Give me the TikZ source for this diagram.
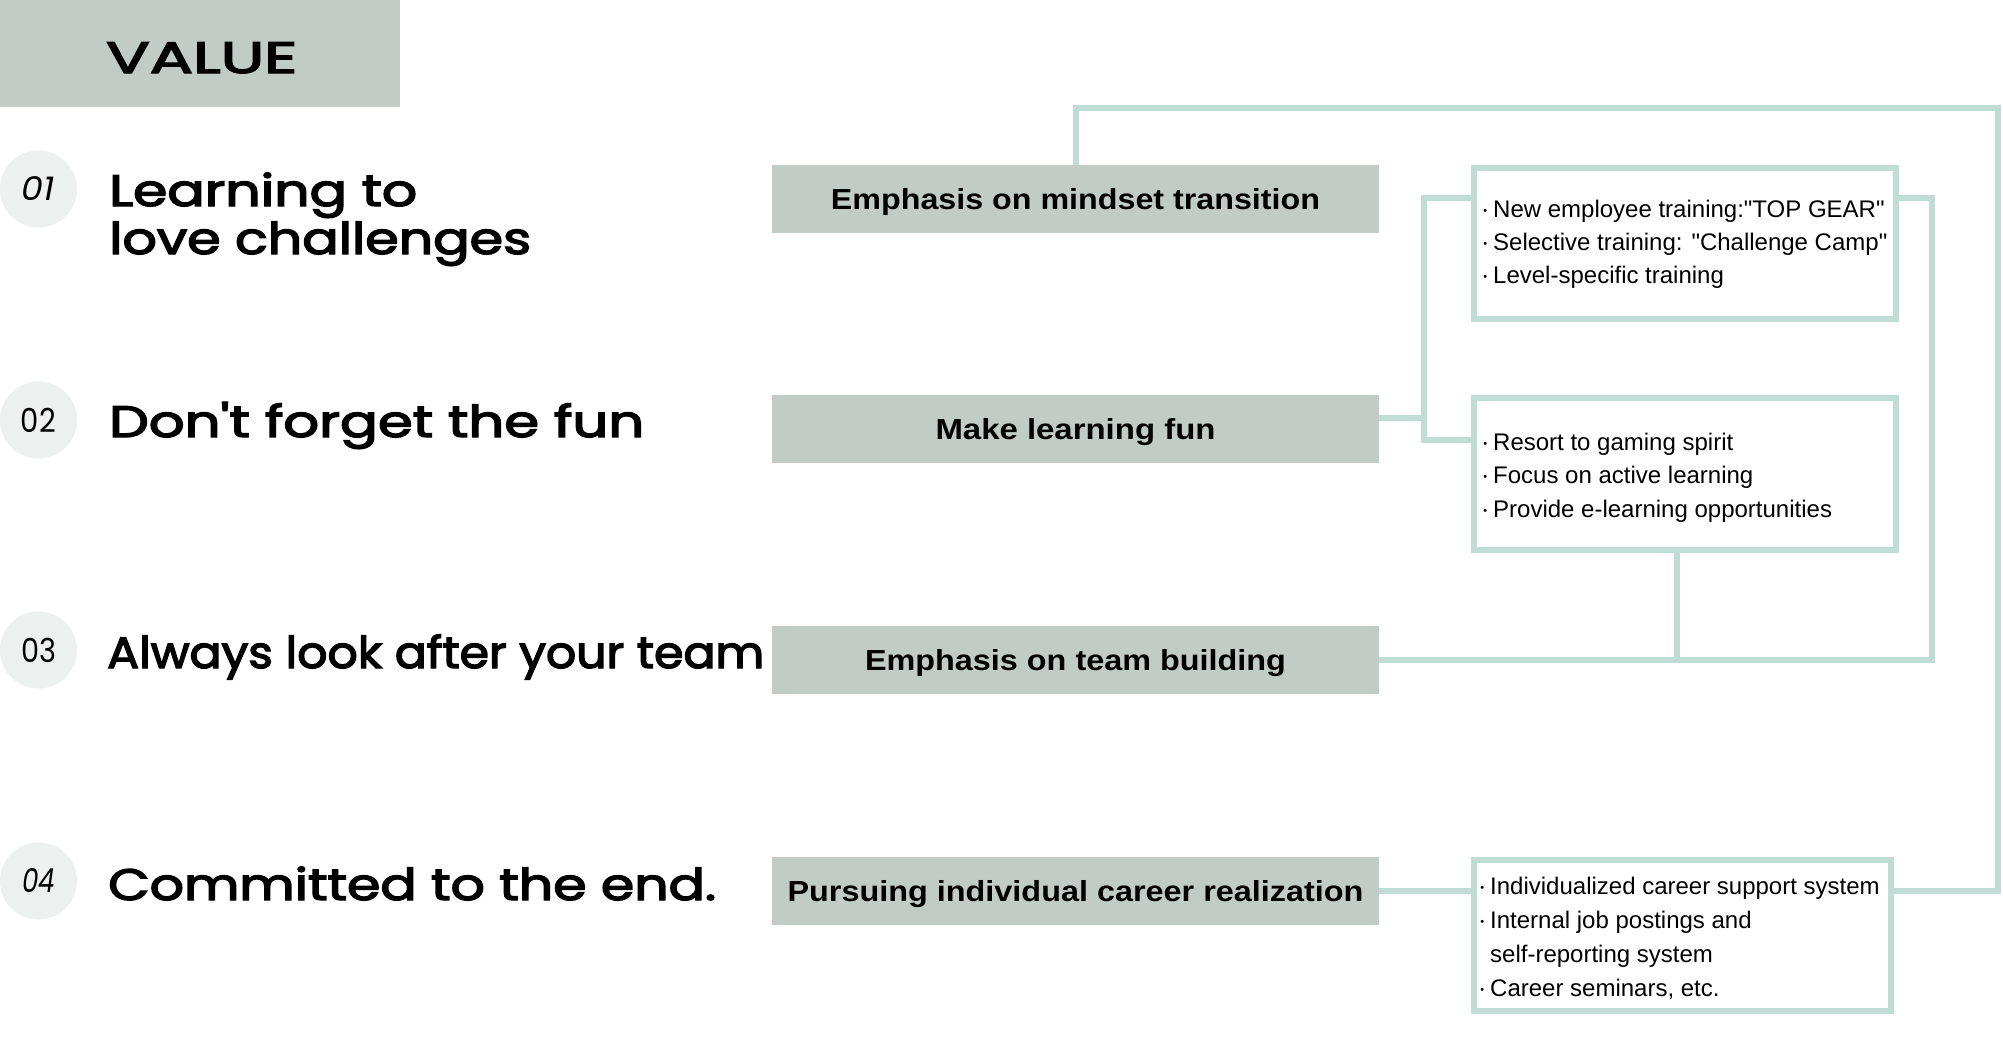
\documentclass[tikz,border=0pt]{standalone}
\usepackage{fontspec}
\usepackage{graphicx}
\setmainfont{Liberation Sans}[Ligatures=TeXOff]
\newfontfamily\headf{Poppins}[FakeBold=3, Ligatures=TeXOff]
\newfontfamily\numf{Poppins}
\definecolor{boxgray}{HTML}{C1CCC7}
\definecolor{lineteal}{HTML}{BFDDD5}
\definecolor{circgray}{HTML}{ECF0EF}
\newcommand\fitw[2]{\resizebox{#1}{\height}{#2}}
\newcommand\bul{\llap{\raisebox{3pt}{\fontsize{11}{11}\selectfont\textbullet}\kern6pt}}
\begin{document}
\begin{tikzpicture}[x=1pt,y=-1pt,
  gbox/.style={fill=boxgray, draw=none, minimum width=607pt, minimum height=68pt, inner sep=0pt,
    text height=21pt, text depth=0pt, font=\bfseries\fontsize{29}{29}\selectfont},
  ibox/.style={draw=lineteal, line width=6pt, fill=white, inner sep=0pt},
  link/.style={draw=lineteal, line width=6pt},
  itm/.style={anchor=base west, inner sep=0pt, font=\fontsize{24}{24}\selectfont},
  head/.style={anchor=base west, inner sep=0pt, font=\headf\fontsize{44}{44}\selectfont},
  numc/.style={circle, fill=circgray, minimum size=77pt, inner sep=0pt, font=\numf\fontsize{33}{33}\selectfont}]
\useasboundingbox (0,0) rectangle (2003,1042);
\fill[white] (0,0) rectangle (2003,1042);

% title
\node[fill=boxgray, minimum width=400pt, minimum height=107pt, inner sep=0pt] (vbox) at (200,53.5) {};
\node[head] (vt) at (106,73) {\fitw{191pt}{VALUE}};

% number circles
\node[numc] (c1) at (38.5,189) {\fitw{33pt}{\itshape 01}};
\node[numc] (c2) at (38.5,420) {\fitw{35pt}{02}};
\node[numc] (c3) at (38.5,650) {\fitw{35pt}{03}};
\node[numc] (c4) at (38.5,881) {\fitw{33pt}{\itshape 04}};

% headings
\node[head] (h1a) at (109,206) {\fitw{308pt}{Learning to}};
\node[head] (h1b) at (109,254) {\fitw{422pt}{love challenges}};
\node[head] (h2) at (109,437) {\fitw{535pt}{Don't forget the fun}};
\node[head] (h3) at (107,668) {\fitw{657pt}{Always look after your team}};
\node[head] (h4) at (108,900) {\fitw{608pt}{Committed to the end.}};

% gray boxes
\node[gbox] (b1) at (1075.5,199) {\fitw{489pt}{Emphasis on mindset transition}};
\node[gbox] (b2) at (1075.5,429) {\fitw{280pt}{Make learning fun}};
\node[gbox] (b3) at (1075.5,660) {\fitw{421pt}{Emphasis on team building}};
\node[gbox] (b4) at (1075.5,891) {\fitw{576pt}{Pursuing individual career realization}};

% item boxes
\node[ibox, minimum width=422pt, minimum height=151pt] (ia) at (1685,243.5) {};
\node[ibox, minimum width=422pt, minimum height=152pt] (ib) at (1685,474) {};
\node[ibox, minimum width=417pt, minimum height=151pt] (ic) at (1682.5,935.5) {};

% item texts
\node[itm] (a1) at (1493,217) {\bul New employee training:"TOP GEAR"};
\node[itm] (a2) at (1493,250) {\bul Selective training: "Challenge Camp"};
\node[itm] (a3) at (1493,283) {\bul Level-specific training};
\node[itm] (p1) at (1493,450) {\bul Resort to gaming spirit};
\node[itm] (p2) at (1493,483) {\bul Focus on active learning};
\node[itm] (p3) at (1493,517) {\bul Provide e-learning opportunities};
\node[itm] (q1) at (1490,894) {\bul Individualized career support system};
\node[itm] (q2) at (1490,928) {\bul Internal job postings and};
\node[itm] (q3) at (1490,962) {self-reporting system};
\node[itm] (q4) at (1490,996) {\bul Career seminars, etc.};

% connector points
\coordinate (kt) at (1998,108);
\coordinate (k1) at (1424,198);
\coordinate (k2) at (1424,440);
\coordinate (k3) at (1932,198);

% connectors
\draw[link] (b1.north) |- (kt) |- (ic.east |- b4.east);
\draw[link] (ia.west |- k1) -| (k2) -- (ib.west |- k2);
\draw[link] ([yshift=11pt]b2.east) -- ([yshift=11pt]b2.east -| k1);
\draw[link] (b3.east) -| (k3) -- (ia.east |- k3);
\draw[link] ([xshift=-8pt]ib.south) -- ([xshift=-8pt]ib.south |- b3.east);
\draw[link] (b4.east) -- (ic.west |- b4.east);
\end{tikzpicture}
\end{document}
